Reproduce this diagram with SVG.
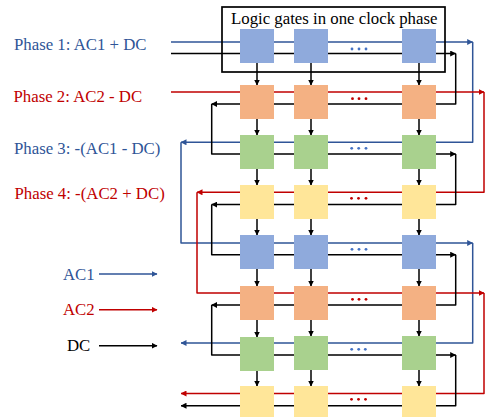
<svg xmlns="http://www.w3.org/2000/svg" width="485" height="417" viewBox="0 0 485 417">
<style>
text{font-family:"Liberation Serif","Times New Roman",serif;font-size:16.8px}
.b{fill:#2f5597}.r{fill:#c00000}.k{fill:#000}
.l{fill:none;stroke-width:1.5;stroke-linejoin:round}
.lb{stroke:#2f5597;marker-end:url(#ab)}.lr{stroke:#c00000;marker-end:url(#ar)}.lk{stroke:#000;marker-end:url(#ak)}
.c1{fill:#8faadc}.c2{fill:#f4b183}.c3{fill:#a9d18e}.c4{fill:#ffe699}
.db{fill:#4472c4}.dr{fill:#c00000}
</style>
<defs>
<marker id="ab" markerUnits="userSpaceOnUse" markerWidth="6" markerHeight="6" refX="5.5" refY="3" orient="auto"><path d="M0 0L6 3L0 6Z" fill="#2f5597"/></marker>
<marker id="ar" markerUnits="userSpaceOnUse" markerWidth="6" markerHeight="6" refX="5.5" refY="3" orient="auto"><path d="M0 0L6 3L0 6Z" fill="#c00000"/></marker>
<marker id="ak" markerUnits="userSpaceOnUse" markerWidth="6" markerHeight="6" refX="5.5" refY="3" orient="auto"><path d="M0 0L6 3L0 6Z" fill="#000"/></marker>
</defs>
<g id="connectors">
<path class="l lb" d="M171 42H472.7"/>
<path class="l lb" d="M472.7 42V142.3H181"/>
<path class="l lb" d="M181 142.3V243H472.7"/>
<path class="l lb" d="M472.7 243V343H181"/>
<path class="l lr" d="M171 92H484"/>
<path class="l lr" d="M484 92V192.3H197"/>
<path class="l lr" d="M197 192.3V293H484"/>
<path class="l lr" d="M484 293V393.5H181"/>
<path class="l lk" d="M171 53.5H455.7"/>
<path class="l lk" d="M455.7 53.5V104H211.7"/>
<path class="l lk" d="M211.7 104V154H455.7"/>
<path class="l lk" d="M455.7 154V204.6H211.7"/>
<path class="l lk" d="M211.7 204.6V254.7H455.7"/>
<path class="l lk" d="M455.7 254.7V305H211.7"/>
<path class="l lk" d="M211.7 305V355H455.7"/>
<path class="l lk" d="M455.7 355V405.7H181"/>
<path class="l lk" d="M257 63V85"/><path class="l lk" d="M311 63V85"/><path class="l lk" d="M419 63V85"/>
<path class="l lk" d="M257 119V135"/><path class="l lk" d="M311 119V135"/><path class="l lk" d="M419 119V135"/>
<path class="l lk" d="M257 169V185"/><path class="l lk" d="M311 169V185"/><path class="l lk" d="M419 169V185"/>
<path class="l lk" d="M257 219V235"/><path class="l lk" d="M311 219V235"/><path class="l lk" d="M419 219V235"/>
<path class="l lk" d="M257 269V286"/><path class="l lk" d="M311 269V286"/><path class="l lk" d="M419 269V286"/>
<path class="l lk" d="M257 320V337"/><path class="l lk" d="M311 320V336"/><path class="l lk" d="M419 320V336"/>
<path class="l lk" d="M257 371V386"/><path class="l lk" d="M311 370V386"/><path class="l lk" d="M419 370V386"/>
<path class="l lb" d="M99 274H157"/>
<path class="l lr" d="M99 309.7H157"/>
<path class="l lk" d="M99 345.7H157"/>
</g>
<g id="group-box"><rect x="222" y="7" width="223" height="65" fill="none" stroke="#000" stroke-width="1.7"/><text x="231" y="23.500" class="k">Logic gates in one clock phase</text></g>
<g id="row1"><rect class="c1" x="240" y="29" width="34" height="34"/><rect class="c1" x="294" y="29" width="34" height="34"/><rect class="c1" x="402" y="29" width="34" height="34"/><circle class="db" cx="352" cy="49" r="1.4"/><circle class="db" cx="359" cy="49" r="1.4"/><circle class="db" cx="366" cy="49" r="1.4"/></g>
<g id="row2"><rect class="c2" x="240" y="85" width="34" height="34"/><rect class="c2" x="294" y="85" width="34" height="34"/><rect class="c2" x="402" y="85" width="34" height="34"/><circle class="dr" cx="352.500" cy="98.700" r="1.4"/><circle class="dr" cx="359" cy="98.700" r="1.4"/><circle class="dr" cx="366" cy="98.700" r="1.4"/></g>
<g id="row3"><rect class="c3" x="240" y="135" width="34" height="34"/><rect class="c3" x="294" y="135" width="34" height="34"/><rect class="c3" x="402" y="135" width="34" height="34"/><circle class="db" cx="351.700" cy="148.300" r="1.4"/><circle class="db" cx="358.700" cy="148.300" r="1.4"/><circle class="db" cx="366" cy="148.300" r="1.4"/></g>
<g id="row4"><rect class="c4" x="240" y="185" width="34" height="34"/><rect class="c4" x="294" y="185" width="34" height="34"/><rect class="c4" x="402" y="185" width="34" height="34"/><circle class="dr" cx="351.500" cy="198.300" r="1.4"/><circle class="dr" cx="358.500" cy="198.300" r="1.4"/><circle class="dr" cx="366" cy="198.300" r="1.4"/></g>
<g id="row5"><rect class="c1" x="240" y="235" width="34" height="34"/><rect class="c1" x="294" y="235" width="34" height="34"/><rect class="c1" x="402" y="235" width="34" height="34"/><circle class="db" cx="352" cy="249.300" r="1.4"/><circle class="db" cx="359" cy="249.300" r="1.4"/><circle class="db" cx="366" cy="249.300" r="1.4"/></g>
<g id="row6"><rect class="c2" x="240" y="286" width="34" height="34"/><rect class="c2" x="294" y="286" width="34" height="34"/><rect class="c2" x="402" y="286" width="34" height="34"/><circle class="dr" cx="352.500" cy="299.300" r="1.4"/><circle class="dr" cx="359" cy="299.300" r="1.4"/><circle class="dr" cx="366" cy="299.300" r="1.4"/></g>
<g id="row7"><rect class="c3" x="240" y="337" width="34" height="34"/><rect class="c3" x="294" y="336" width="34" height="34"/><rect class="c3" x="402" y="336" width="34" height="34"/><circle class="db" cx="351.700" cy="349.300" r="1.4"/><circle class="db" cx="358.700" cy="349.300" r="1.4"/><circle class="db" cx="365.300" cy="349.300" r="1.4"/></g>
<g id="row8"><rect class="c4" x="240" y="386" width="34" height="31"/><rect class="c4" x="294" y="386" width="34" height="31"/><rect class="c4" x="402" y="386" width="34" height="31"/><circle class="dr" cx="351.500" cy="399.300" r="1.4"/><circle class="dr" cx="358.500" cy="399.300" r="1.4"/><circle class="dr" cx="365.500" cy="399.300" r="1.4"/></g>
<g id="labels">
<text x="14" y="49.500" class="b">Phase 1: AC1 + DC</text>
<text x="13.500" y="101.500" class="r">Phase 2: AC2 - DC</text>
<text x="14" y="153.500" class="b">Phase 3: -(AC1 - DC)</text>
<text x="14.500" y="198.500" class="r">Phase 4: -(AC2 + DC)</text>
<text x="63" y="280" class="b">AC1</text>
<text x="63" y="315" class="r">AC2</text>
<text x="67" y="351" class="k">DC</text>
</g>
</svg>
